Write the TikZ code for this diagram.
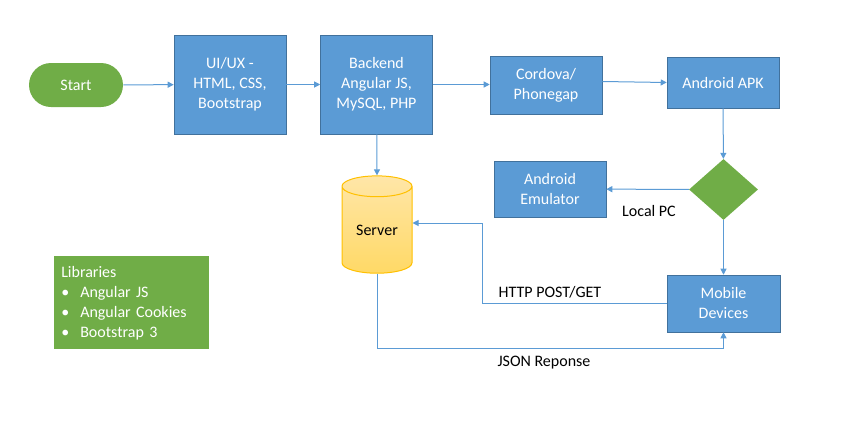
\documentclass[tikz,border=0pt]{standalone}
\usepackage{fontspec}
\setmainfont{Carlito}
\usetikzlibrary{arrows.meta,shapes.geometric}
\definecolor{boxblue}{HTML}{5B9BD5}
\definecolor{boxedge}{HTML}{41719C}
\definecolor{okgreen}{HTML}{70AD47}
\definecolor{dbedge}{HTML}{FFC000}
\definecolor{dbtop}{HTML}{FFE6A8}
\definecolor{dbbot}{HTML}{FFD966}
\tikzset{
  stepbox/.style={draw=boxedge,fill=boxblue,text=white,rectangle,minimum width=84pt,align=center,inner sep=1pt,font=\fontsize{12}{15}\selectfont},
  flow/.style={draw=boxblue,line width=.75pt,-{Triangle[length=4.5pt,width=4.5pt]}},
  lbl/.style={font=\fontsize{12}{15}\selectfont}
}
\begin{document}
\begin{tikzpicture}[x=.75pt,y=-.75pt]
\useasboundingbox (0,0) rectangle (854,443);

% top row
\node[fill=okgreen,text=white,rectangle,rounded corners=16.5pt,minimum width=70.5pt,minimum height=33pt,font=\fontsize{12}{15}\selectfont] (start) at (76,85) {Start};
\node[stepbox,minimum height=74.25pt] (ui) at (230,84.5) {UI/UX -\\HTML, CSS,\\Bootstrap};
\node[stepbox,minimum height=74.25pt] (back) at (376.5,84.5) {Backend\\Angular JS,\\MySQL, PHP};
\node[stepbox,minimum height=43.5pt] (cord) at (546,85) {Cordova/\\Phonegap};
\node[stepbox,minimum height=38.25pt] (apk) at (723,82.5) {Android APK};

% right column
\node[diamond,fill=okgreen,inner sep=0pt,minimum width=51.75pt,minimum height=45.75pt] (dec) at (723.5,189.5) {};
\node[stepbox,minimum height=42pt] (emu) at (550,189) {Android\\Emulator};
\node[stepbox,minimum width=84.75pt,minimum height=42.75pt] (mob) at (723.5,303.5) {Mobile\\Devices};

% server
\node[cylinder,shape border rotate=90,draw=dbedge,line width=.75pt,top color=dbtop,bottom color=dbbot,aspect=.5,minimum width=52.5pt,minimum height=73pt,inner sep=0pt,font=\fontsize{12}{15}\selectfont] (srv) at (377,230) {Server};

% libraries
\node[fill=okgreen,text=white,anchor=north west,text width=105.75pt,minimum height=69.75pt,inner xsep=5.25pt,align=left,font=\fontsize{12}{15}\selectfont] (libs) at (54,256) {Libraries\\
\makebox[14.25pt][l]{\textbullet}Angular JS\\
\makebox[14.25pt][l]{\textbullet}Angular Cookies\\
\makebox[14.25pt][l]{\textbullet}Bootstrap 3};

% connectors
\draw[flow] (start) -- (ui);
\draw[flow] (ui) -- (back);
\draw[flow] (back.east) -- (back.east -| cord.west);
\draw[flow] (cord.east |- apk.west) ++(0,-1) -- (apk.west);
\draw[flow] (apk) -- (dec);
\draw[flow] (dec) -- (emu);
\draw[flow] (dec) -- (mob);
\draw[flow] (back) -- (srv.top);
\coordinate (h1) at (482,303.5);
\coordinate (h2) at (482,223);
\draw[flow] (mob.west) -- (h1) -- (h2) -- (h2 -| srv.east);
\coordinate (j1) at (377,348);
\draw[flow] (srv.bottom) -- (j1) -- (j1 -| mob.south) -- (mob.south);

% labels
\node[lbl] (lpc) at (649,211) {Local PC};
\node[lbl] (http) at (550,292) {HTTP POST/GET};
\node[lbl] (json) at (544,363) {JSON Reponse};
\end{tikzpicture}
\end{document}
